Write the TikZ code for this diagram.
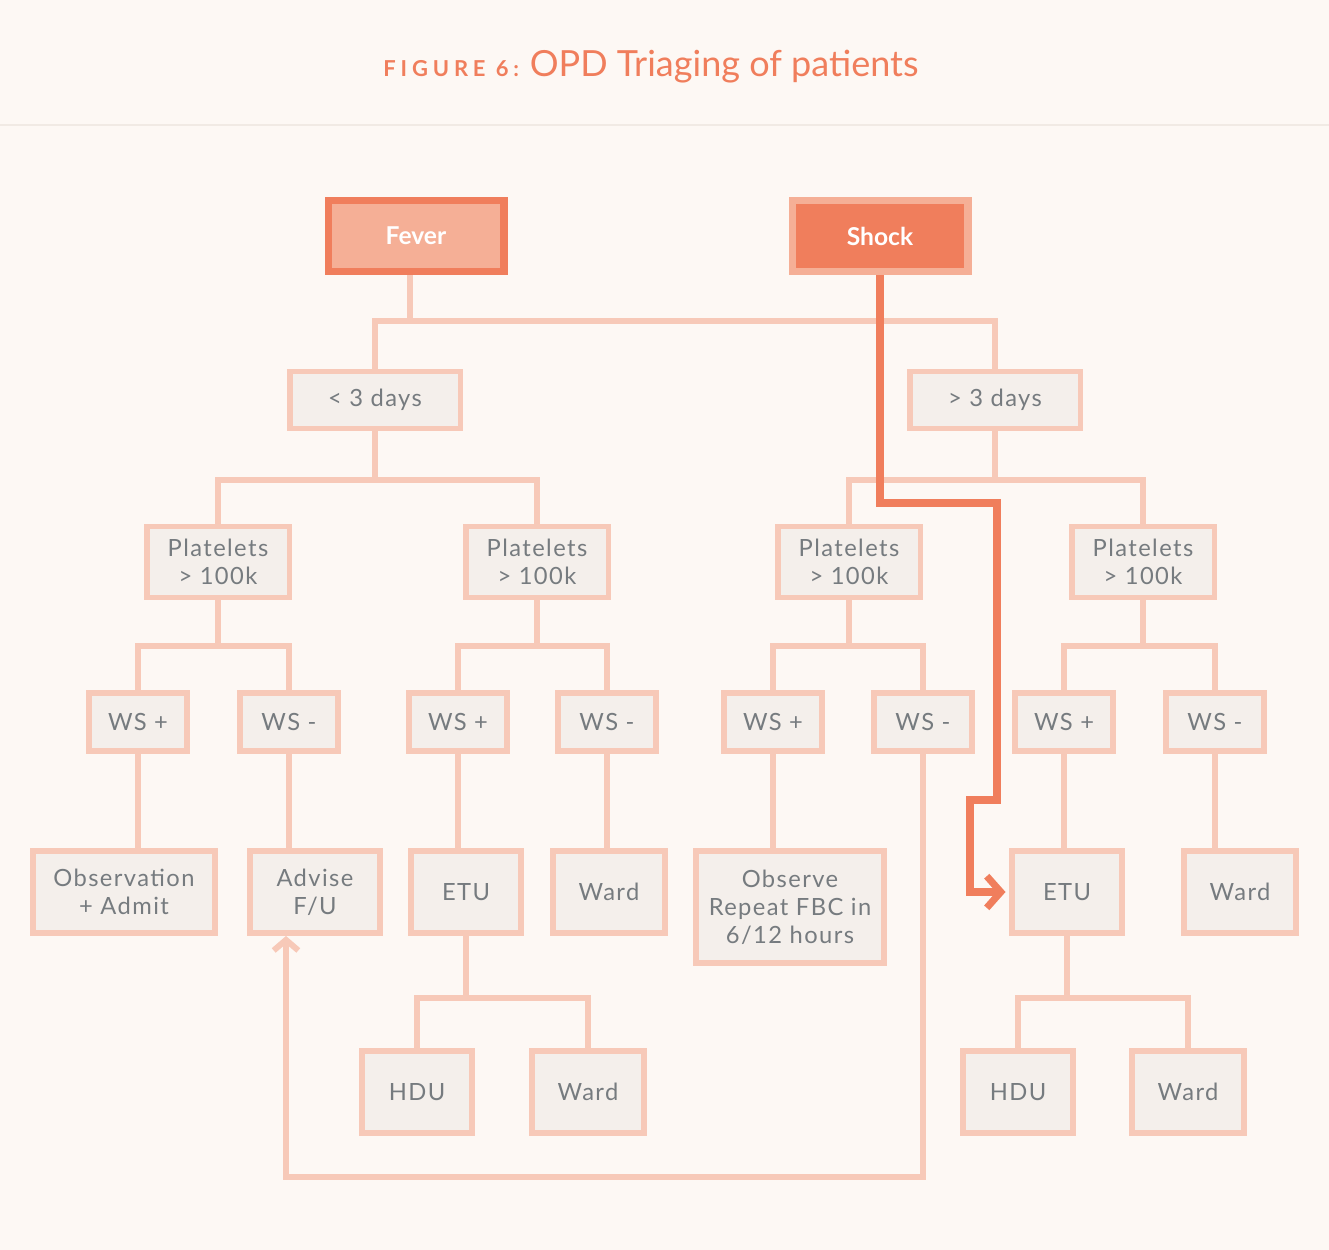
\documentclass[tikz,border=0pt]{standalone}
\usepackage{fontspec}
\setmainfont{Lato}
\newfontfamily\boxfont[LetterSpace=6]{Lato}
\newfontfamily\capsfont[LetterSpace=22]{Lato}
\usetikzlibrary{arrows.meta}

\definecolor{bg}{HTML}{FDF8F4}
\definecolor{boxline}{HTML}{F7C9B8}
\definecolor{boxfill}{HTML}{F4EFEB}
\definecolor{accent}{HTML}{F07E5C}
\definecolor{soft}{HTML}{F5AF96}
\definecolor{txt}{HTML}{767B7F}
\definecolor{rule}{HTML}{F1EAE4}

\begin{document}
\begin{tikzpicture}[x=0.02cm, y=-0.02cm,
  every node/.style = {shape=rectangle, sharp corners,
    draw=boxline, fill=boxfill, line width=3.4pt, inner sep=0pt,
    align=center, text=txt, font=\boxfont\fontsize{13.5}{16}\selectfont},
  start/.style = {line width=4pt, minimum width=3.52cm, minimum height=1.42cm,
    text=white, font=\bfseries\fontsize{14}{16}\selectfont},
  days/.style = {minimum width=3.42cm, minimum height=1.14cm},
  plt/.style = {minimum width=2.86cm, minimum height=1.42cm},
  ws/.style = {minimum width=1.96cm, minimum height=1.16cm},
  leaf/.style = {minimum height=1.64cm, minimum width=#1},
  link/.style = {draw=boxline, line width=3.4pt},
  hot/.style = {draw=accent, line width=4pt},
  back/.style = {-{Straight Barb[length=6pt, width=14pt]}}]
  \useasboundingbox (0,0) rectangle (1329,1250);
  \fill[bg] (0,0) rectangle (1329,1250);
  \draw[rule, line width=1pt] (0,125) -- (1329,125);

  \node[draw=none, fill=none, text=accent, font=\fontsize{20.5}{24}\selectfont] (title) at (651,67)
    {{\capsfont\bfseries\fontsize{12.5}{14}\selectfont FIGURE 6:}\hspace{0.3em}OPD Triaging of patients};

  % start boxes
  \node[start, fill=soft, draw=accent] (fever) at (416,236) {Fever};
  \node[start, fill=accent, draw=soft] (shock) at (880,236) {Shock};

  % duration
  \node[days] (lt) at (375,400) {< 3 days};
  \node[days] (gt) at (995,400) {> 3 days};

  % platelets
  \node[plt] (pa) at (218,562) {Platelets\\> 100k};
  \node[plt] (pb) at (537,562) {Platelets\\> 100k};
  \node[plt] (pc) at (849,562) {Platelets\\> 100k};
  \node[plt] (pd) at (1143,562) {Platelets\\> 100k};

  % warning signs
  \node[ws] (wa1) at (138,722) {WS +};
  \node[ws] (wa2) at (289,722) {WS -};
  \node[ws] (wb1) at (458,722) {WS +};
  \node[ws] (wb2) at (607,722) {WS -};
  \node[ws] (wc1) at (773,722) {WS +};
  \node[ws] (wc2) at (923,722) {WS -};
  \node[ws] (wd1) at (1064,722) {WS +};
  \node[ws] (wd2) at (1215,722) {WS -};

  % outcomes
  \node[leaf=3.64cm] (obs) at (124,892) {Observation\\+ Admit};
  \node[leaf=2.6cm] (adv) at (315,892) {Advise\\F/U};
  \node[leaf=2.2cm] (etua) at (466,892) {ETU};
  \node[leaf=2.24cm] (warda) at (609,892) {Ward};
  \node[leaf=3.76cm, minimum height=2.24cm] (rep) at (790,907) {Observe\\Repeat FBC in\\6/12 hours};
  \node[leaf=2.2cm] (etub) at (1067,892) {ETU};
  \node[leaf=2.24cm] (wardb) at (1240,892) {Ward};

  \node[leaf=2.2cm] (hdua) at (417,1092) {HDU};
  \node[leaf=2.24cm] (wardc) at (588,1092) {Ward};
  \node[leaf=2.2cm] (hdub) at (1018,1092) {HDU};
  \node[leaf=2.24cm] (wardd) at (1188,1092) {Ward};

  % forks
  \draw[link] ([xshift=-0.12cm]fever.south) -- ++(0,46) coordinate (f0);
  \draw[link] (lt.north) |- (f0) -| (gt.north);
  \draw[link] (lt.south) -- ++(0,49) coordinate (f1);
  \draw[link] (pa.north) |- (f1) -| (pb.north);
  \draw[link] (gt.south) -- ++(0,49) coordinate (f2);
  \draw[link] (pc.north) |- (f2) -| (pd.north);
  \draw[link] (pa.south) -- ++(0,46) coordinate (f3);
  \draw[link] (wa1.north) |- (f3) -| (wa2.north);
  \draw[link] (pb.south) -- ++(0,46) coordinate (f4);
  \draw[link] (wb1.north) |- (f4) -| (wb2.north);
  \draw[link] (pc.south) -- ++(0,46) coordinate (f5);
  \draw[link] (wc1.north) |- (f5) -| (wc2.north);
  \draw[link] (pd.south) -- ++(0,46) coordinate (f6);
  \draw[link] (wd1.north) |- (f6) -| (wd2.north);
  \draw[link] (etua.south) -- ++(0,62) coordinate (f7);
  \draw[link] (hdua.north) |- (f7) -| (wardc.north);
  \draw[link] (etub.south) -- ++(0,62) coordinate (f8);
  \draw[link] (hdub.north) |- (f8) -| (wardd.north);

  % single links
  \draw[link] (wa1.south) -- (wa1.south |- obs.north);
  \draw[link] (wa2.south) -- (wa2.south |- adv.north);
  \draw[link] (wb1.south) -- (wb1.south |- etua.north);
  \draw[link] (wb2.south) -- (wb2.south |- warda.north);
  \draw[link] (wc1.south) -- (wc1.south |- rep.north);
  \draw[link] (wd1.south) -- (wd1.south |- etub.north);
  \draw[link] (wd2.south) -- (wd2.south |- wardb.north);

  % back to advise
  \draw[link, back] (wc2.south) -- ++(0,423) -| ([xshift=-0.58cm]adv.south);

  % shock route
  \draw[hot, -{Straight Barb[length=8pt, width=18pt]}, shorten >=2pt]
    (shock.south) |- ++(117,228) -- ++(0,297) -- ++(-27,0) |- (etub.west);
\end{tikzpicture}
\end{document}
